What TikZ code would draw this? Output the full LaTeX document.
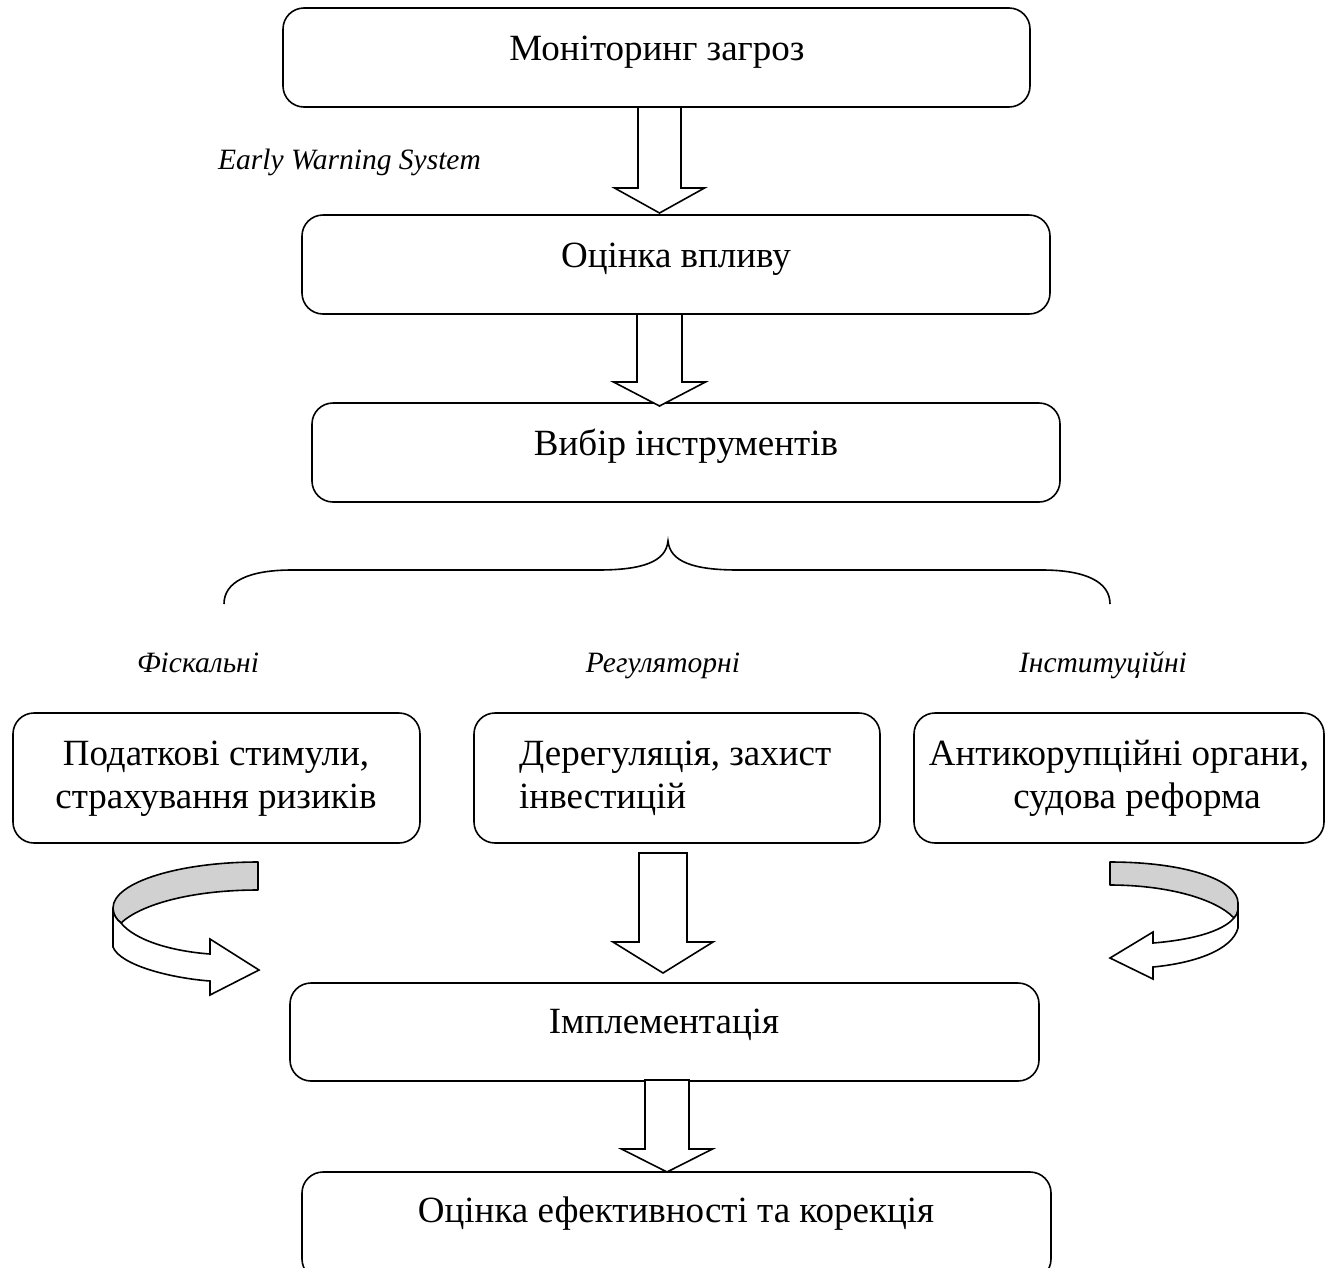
\documentclass[tikz,border=0pt]{standalone}
\usepackage{fontspec}
\setmainfont{Liberation Serif}
\begin{document}
\begin{tikzpicture}[x=1pt,y=-1pt,
  box/.style={draw=black,line width=1.6pt,rounded corners=21pt,fill=white,inner sep=0pt},
  txt/.style={inner sep=0pt,font=\fontsize{37}{43}\selectfont},
  lab/.style={inner sep=0pt,font=\fontsize{29.5}{33}\selectfont\itshape},
  barrow/.style={draw=black,line width=1.6pt,fill=white,line join=miter},
  ribtop/.style={draw=black,line width=1.6pt,fill=black!18,line join=round},
  ribfront/.style={draw=black,line width=1.6pt,fill=white,line join=miter},
  bracel/.style={draw=black,line width=1.6pt}]
\clip (0,0) rectangle (1330,1267);
\fill[white] (0,0) rectangle (1330,1267);
\newcommand\blkdown[6]{%
  \draw[barrow] ({#1-#4},#2) -- ({#1-#4},{#3-#6}) -- ({#1-#5},{#3-#6}) -- (#1,#3)
    -- ({#1+#5},{#3-#6}) -- ({#1+#4},{#3-#6}) -- ({#1+#4},#2) -- cycle;}
% boxes
\node[box,minimum width=747pt,minimum height=99pt] (b1) at (656.5,57.5) {};
\node[box,minimum width=748pt,minimum height=99pt] (b2) at (676,264.5) {};
\node[box,minimum width=748pt,minimum height=99pt] (b3) at (686,452.5) {};
\node[box,minimum width=407pt,minimum height=130pt] (b4) at (216.5,778) {};
\node[box,minimum width=406pt,minimum height=130pt] (b5) at (677,778) {};
\node[box,minimum width=410pt,minimum height=130pt] (b6) at (1119,778) {};
\node[box,minimum width=749pt,minimum height=98pt] (b7) at (664.5,1032) {};
\node[box,minimum width=749pt,minimum height=108pt] (b8) at (676.5,1226) {};
% texts
\node[txt,anchor=base] (t1) at (657,60) {Моніторинг загроз};
\node[txt,anchor=base] (t2) at (676,267) {Оцінка впливу};
\node[txt,anchor=base] (t3) at (686,455) {Вибір інструментів};
\node[txt,anchor=base] (t4a) at (216,765) {Податкові стимули,};
\node[txt,anchor=base] (t4b) at (216,808) {страхування ризиків};
\node[txt,anchor=base west] (t5a) at (519,765) {Дерегуляція, захист};
\node[txt,anchor=base west] (t5b) at (519,808) {інвестицій};
\node[txt,anchor=base] (t6a) at (1119,765) {Антикорупційні органи,};
\node[txt,anchor=base] (t6b) at (1137,808) {судова реформа};
\node[txt,anchor=base] (t7) at (664,1033) {Імплементація};
\node[txt,anchor=base] (t8) at (676,1222) {Оцінка ефективності та корекція};
% italic labels
\node[lab,anchor=base] (ews) at (349.5,169) {Early Warning System};
\node[lab,anchor=base] (l1) at (198,672) {Фіскальні};
\node[lab,anchor=base] (l2) at (663,672) {Регуляторні};
\node[lab,anchor=base] (l3) at (1103,672) {Інституційні};
% block arrows
\blkdown{659.5}{107}{213}{21.5}{45}{25}
\blkdown{659.5}{314}{406}{22.5}{46}{24}
\blkdown{663}{853}{973}{24}{50}{31}
\blkdown{667}{1080}{1172}{22}{45.5}{23}
% brace
\draw[bracel] (224,604) .. controls (224,582) and (248,570) .. (292,570) -- (598,570)
  .. controls (642,570) and (666,562) .. (668,541)
  .. controls (670,562) and (694,570) .. (738,570) -- (1042,570)
  .. controls (1086,570) and (1110,582) .. (1110,604);
% left curved arrow
\draw[ribtop] (258,862) .. controls (180,862) and (113,882) .. (113,908)
  .. controls (113,914) and (116,919) .. (121,923)
  .. controls (140,905) and (190,890) .. (258,890) -- cycle;
\draw[ribfront] (113,908) -- (113,947) .. controls (120,965) and (170,978) .. (210,981)
  -- (210,995) -- (259,970) -- (210,939) -- (210,954)
  .. controls (170,951) and (135,940) .. (121,923)
  .. controls (116,919) and (113,914) .. (113,908) -- cycle;
% right curved arrow
\draw[ribtop] (1110,862) .. controls (1185,862) and (1238,880) .. (1238,903)
  -- (1238,910) .. controls (1238,913) and (1236,916) .. (1234,918)
  .. controls (1215,898) and (1165,885) .. (1110,885) -- cycle;
\draw[ribfront] (1238,910) -- (1238,928) .. controls (1232,950) and (1195,963) .. (1153,967)
  -- (1153,979) -- (1110,958) -- (1153,932) -- (1153,943)
  .. controls (1190,940) and (1222,932) .. (1234,918)
  .. controls (1236,916) and (1238,913) .. (1238,910) -- cycle;
\end{tikzpicture}
\end{document}
